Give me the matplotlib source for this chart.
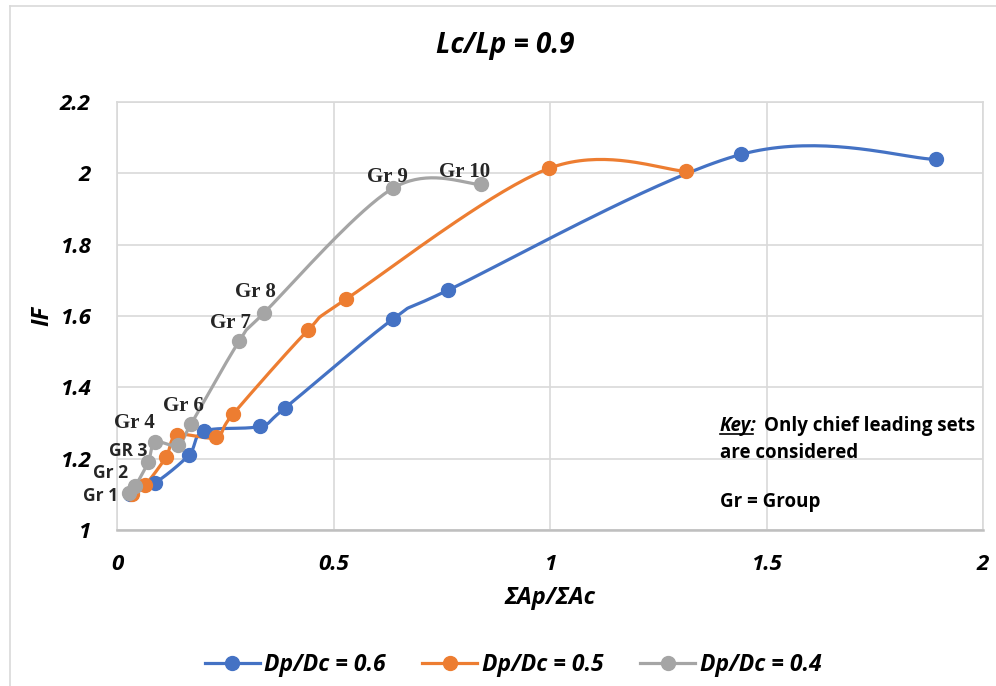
import numpy as np
import matplotlib
matplotlib.use("Agg")
import matplotlib.pyplot as plt

plt.rcParams['font.family'] = ['Open Sans', 'DejaVu Sans']

# IF against sum(Ap)/sum(Ac), one point per group (Gr 1 .. Gr 10)
x_06 = [0.030, 0.088, 0.166, 0.201, 0.330, 0.388, 0.637, 0.764, 1.441, 1.891]
y_06 = [1.102, 1.132, 1.210, 1.277, 1.291, 1.342, 1.591, 1.672, 2.053, 2.039]

x_05 = [0.035, 0.065, 0.113, 0.139, 0.229, 0.268, 0.441, 0.529, 0.998, 1.314]
y_05 = [1.100, 1.126, 1.204, 1.266, 1.260, 1.325, 1.560, 1.647, 2.014, 2.006]

x_04 = [0.028, 0.042, 0.072, 0.088, 0.141, 0.171, 0.282, 0.339, 0.637, 0.841]
y_04 = [1.104, 1.123, 1.190, 1.246, 1.238, 1.297, 1.529, 1.608, 1.958, 1.969]

series_names = ['Dp/Dc = 0.6', 'Dp/Dc = 0.5', 'Dp/Dc = 0.4']
colors = ['#4472C4', '#ED7D31', '#A5A5A5']

group_labels = ['Gr 1', 'Gr 2', 'GR 3', 'Gr 4', None, 'Gr 6', 'Gr 7', 'Gr 8', 'Gr 9', 'Gr 10']
# label offsets in pixels from the grey points
label_off = [(-29, -3), (-25, 13), (-20, 11), (-21, 19), None, (-8, 18),
             (-9, 18), (-8, 21), (-5, 11), (-17, 12)]
serif_label = [False, False, False, True, False, True, True, True, True, True]


def smooth(xs, ys, n=40):
    # cubic bezier through the points, catmull-rom style control points
    p = np.column_stack([xs, ys]).astype(float)
    ext = np.vstack([p[0], p, p[-1]])
    t = np.linspace(0, 1, n)[:, None]
    out = []
    for i in range(len(p) - 1):
        p0, p1, p2, p3 = ext[i], ext[i + 1], ext[i + 2], ext[i + 3]
        c1 = p1 + (p2 - p0) / 6
        c2 = p2 - (p3 - p1) / 6
        seg = ((1 - t) ** 3) * p1 + 3 * ((1 - t) ** 2) * t * c1 + 3 * (1 - t) * t ** 2 * c2 + t ** 3 * p2
        out.append(seg if i == 0 else seg[1:])
    out = np.vstack(out)
    return out[:, 0], out[:, 1]


fig = plt.figure(figsize=(9.96, 6.86), dpi=100)
ax = fig.add_axes([117 / 996, 1 - 530 / 686, 866 / 996, 428 / 686])

for xs, ys, c, name in zip([x_06, x_05, x_04], [y_06, y_05, y_04], colors, series_names):
    sx, sy = smooth(xs, ys)
    ax.plot(sx, sy, color=c, lw=2.3, solid_capstyle='round', zorder=3)
    ax.plot(xs, ys, 'o', color=c, ms=10, zorder=4)
    ax.plot([], [], '-o', color=c, lw=2.3, ms=10, label=name)

for i, lab in enumerate(group_labels):
    if lab is None:
        continue
    if serif_label[i]:
        ax.annotate(lab, (x_04[i], y_04[i]), xytext=label_off[i], textcoords='offset pixels',
                    ha='center', va='center', fontsize=15, fontweight='bold',
                    family='Liberation Serif', color='#262626', zorder=5)
    else:
        ax.annotate(lab, (x_04[i], y_04[i]), xytext=label_off[i], textcoords='offset pixels',
                    ha='center', va='center', fontsize=12.5, fontweight='bold',
                    color='#262626', zorder=5)

ax.set_xlim(0, 2)
ax.set_ylim(1, 2.2)
ax.set_xticks([0, 0.5, 1, 1.5, 2])
ax.set_xticklabels(['0', '0.5', '1', '1.5', '2'])
ax.set_yticks([1, 1.2, 1.4, 1.6, 1.8, 2, 2.2])
ax.set_yticklabels(['1', '1.2', '1.4', '1.6', '1.8', '2', '2.2'])
for lbl in ax.get_xticklabels() + ax.get_yticklabels():
    lbl.set_fontsize(16)
    lbl.set_fontweight('bold')
    lbl.set_fontstyle('italic')
ax.tick_params(length=0)
ax.tick_params(axis='x', pad=17)
ax.tick_params(axis='y', pad=19)
ax.grid(True, color='#D9D9D9', lw=1.2, zorder=0)
ax.set_axisbelow(True)
for s in ['top', 'right', 'left']:
    ax.spines[s].set_color('#D9D9D9')
    ax.spines[s].set_linewidth(1.2)
ax.spines['bottom'].set_color('#BFBFBF')
ax.spines['bottom'].set_linewidth(1.8)

ax.set_xlabel('ΣAp/ΣAc', fontsize=17, fontweight='bold', fontstyle='italic', labelpad=8)
ax.set_ylabel('IF', fontsize=17, fontweight='bold', fontstyle='italic', labelpad=4)

fig.text(505 / 996, 1 - 45 / 686, 'Lc/Lp = 0.9', ha='center', va='center',
         fontsize=20, fontweight='bold', fontstyle='italic')

# key box text
key = fig.text(720 / 996, 1 - 426 / 686, 'Key:', ha='left', va='center', fontsize=13.5,
               fontweight='bold', fontstyle='italic')
fig.text(764 / 996, 1 - 426 / 686, 'Only chief leading sets', ha='left', va='center',
         fontsize=13.5, fontweight='bold')
fig.text(720 / 996, 1 - 453 / 686, 'are considered', ha='left', va='center',
         fontsize=13.5, fontweight='bold')
fig.text(720 / 996, 1 - 502 / 686, 'Gr = Group', ha='left', va='center',
         fontsize=13.5, fontweight='bold')

leg = fig.legend(loc='center', bbox_to_anchor=(513 / 996, 1 - 665 / 686), ncol=3,
                 frameon=False, handlelength=2.4, handletextpad=0.2, columnspacing=1.6,
                 borderaxespad=0, borderpad=0,
                 prop={'weight': 'bold', 'style': 'italic', 'size': 16.5})

# underline under "Key:"
fig.canvas.draw()
bb = key.get_window_extent().transformed(fig.transFigure.inverted())
fig.add_artist(plt.Line2D([bb.x0, bb.x1 - 0.004], [bb.y0 + 0.003, bb.y0 + 0.003],
                          transform=fig.transFigure, color='black', lw=1.2))

# chart area outline
fig.add_artist(plt.Line2D([10 / 996, 10 / 996], [0, 1 - 6 / 686], transform=fig.transFigure,
                          color='#D9D9D9', lw=1.2))
fig.add_artist(plt.Line2D([10 / 996, 1], [1 - 6 / 686, 1 - 6 / 686], transform=fig.transFigure,
                          color='#D9D9D9', lw=1.2))

fig.savefig('out.png', dpi=100)
